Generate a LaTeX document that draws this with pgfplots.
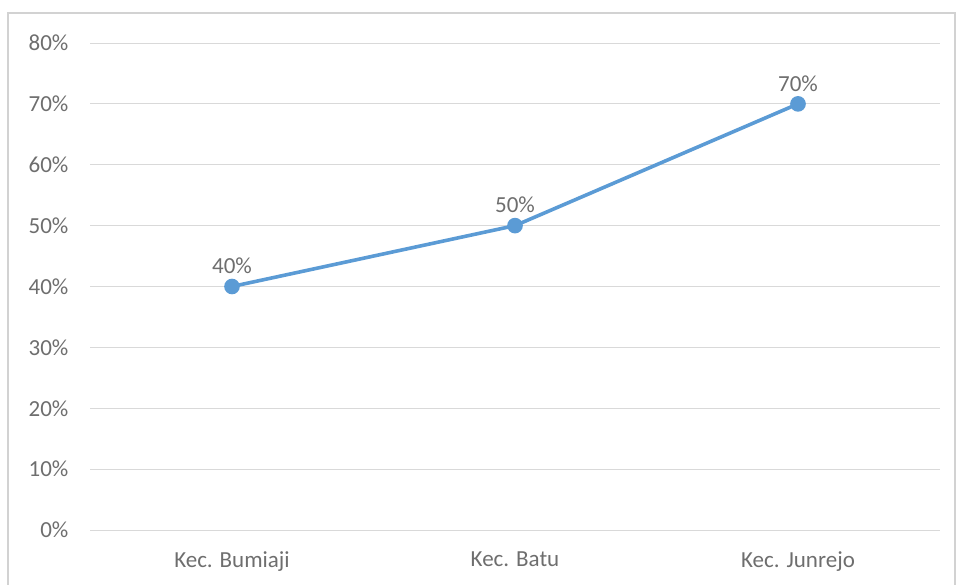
\documentclass[border=0pt]{standalone}
\usepackage{pgfplots}
\pgfplotsset{compat=1.18}
\usepackage{fontspec}
\setmainfont{Carlito}
\definecolor{lineblue}{HTML}{5B9BD5}
\definecolor{txtgray}{HTML}{6E6E6E}
\definecolor{gridgray}{HTML}{D9D9D9}
\begin{document}
\begin{tikzpicture}
\path[use as bounding box] (0,0) rectangle (479.5pt,292pt);
\draw[gray!35, line width=0.8pt] (4pt,-3pt) rectangle (477.5pt,285.5pt);
\begin{axis}[
  at={(45.25pt,27pt)}, anchor=south west,
  scale only axis, width=424.5pt, height=243.5pt,
  xmin=-0.5, xmax=2.5, ymin=0, ymax=80,
  xtick={0,1,2}, xticklabels={Kec. Bumiaji, Kec. Batu, Kec. Junrejo},
  ytick={0,10,...,80},
  yticklabel={\pgfmathprintnumber{\tick}\%},
  /pgf/number format/assume math mode=true,
  ymajorgrids, grid style={gridgray, line width=0.5pt},
  axis line style={draw=none},
  axis x line*=bottom,
  major tick length=0pt,
  tick label style={font=\fontsize{11.5}{13}\selectfont, text=txtgray},
  yticklabel style={xshift=-7.5pt},
  xticklabel style={yshift=-7.5pt},
  clip=false,
]
\draw[gridgray, line width=0.5pt] (axis cs:-0.5,0) -- (axis cs:2.5,0);
\addplot[lineblue, line width=1.8pt, mark=*, mark size=3pt, mark options={fill=lineblue},
  nodes near coords={\pgfmathprintnumber{\pgfplotspointmeta}\%},
  every node near coord/.append style={font=\fontsize{11.5}{13}\selectfont, text=txtgray, yshift=2pt},
  point meta=explicit symbolic]
  coordinates {(0,40) [40] (1,50) [50] (2,70) [70]};
\end{axis}
\end{tikzpicture}
\end{document}
